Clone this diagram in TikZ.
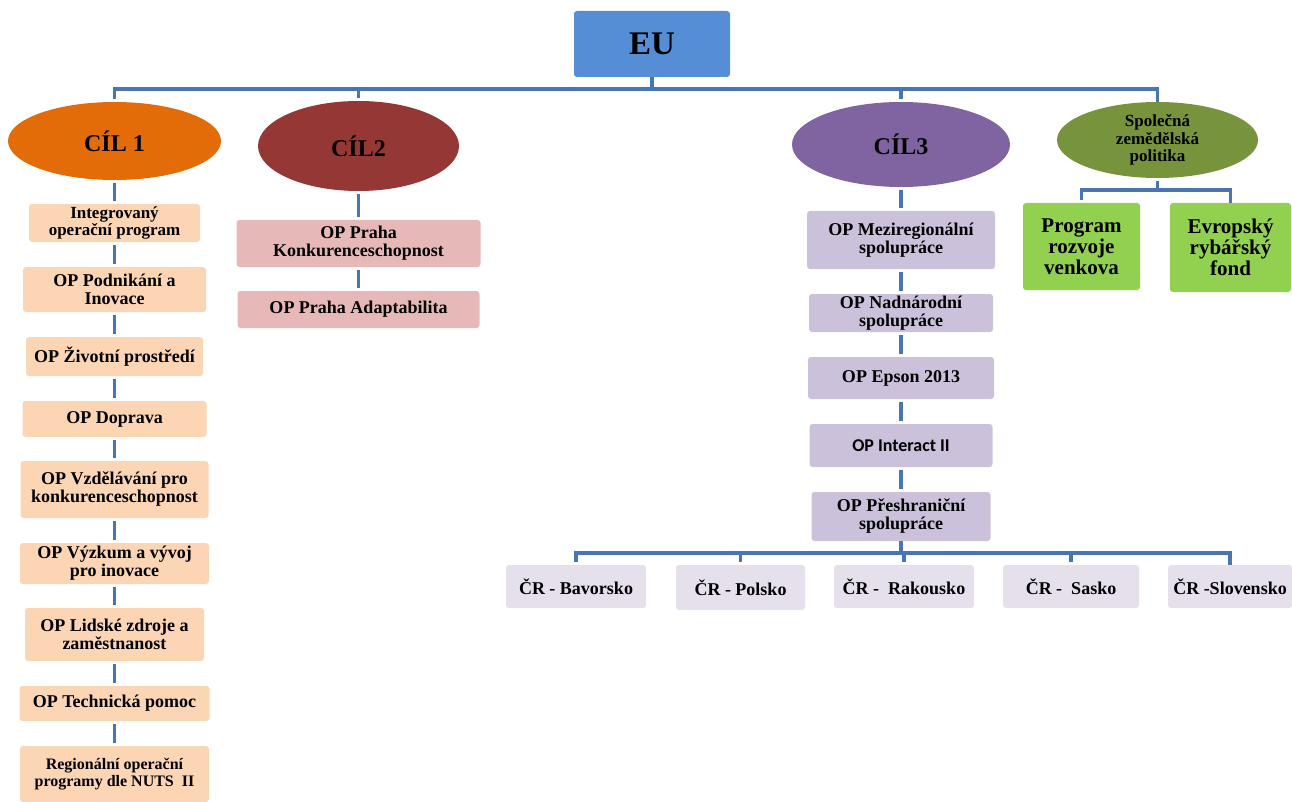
\documentclass[tikz,border=0pt]{standalone}
\usepackage{fontspec}
\setmainfont{Liberation Serif}
\newfontfamily\calfont{Carlito}
\usetikzlibrary{shapes.geometric}
\definecolor{linec}{HTML}{4677B4}
\definecolor{eublue}{HTML}{558ED5}
\definecolor{orangec}{HTML}{E36C09}
\definecolor{redc}{HTML}{953735}
\definecolor{purplec}{HTML}{8064A2}
\definecolor{olivec}{HTML}{77933C}
\definecolor{greenc}{HTML}{92D050}
\definecolor{peach}{HTML}{FCD5B5}
\definecolor{pinkc}{HTML}{E6B9B8}
\definecolor{lilac}{HTML}{CCC1DA}
\definecolor{lilaclight}{HTML}{E5E0EC}
\tikzset{
  conn/.style={draw=linec, line width=3.2pt},
  gap/.style={shorten <=3pt, shorten >=3pt},
  gapend/.style={shorten <=3pt},
  bx/.style={rectangle, rounded corners=3pt, inner sep=0pt, align=center,
    font=\fontsize{18}{18}\selectfont\bfseries},
  ell/.style={ellipse, inner sep=0pt, align=center,
    font=\fontsize{24}{24}\selectfont\bfseries},
  pbox/.style={bx, fill=peach},
  rbox/.style={bx, fill=pinkc},
  lbox/.style={bx, fill=lilac},
  cbox/.style={bx, fill=lilaclight, minimum height=43pt},
  gbox/.style={bx, fill=greenc, font=\fontsize{21}{21}\selectfont\bfseries},
}
\begin{document}
\begin{tikzpicture}[x=1pt,y=-1pt]
\useasboundingbox (0,0) rectangle (1292,802);
% top
\node[bx, fill=eublue, minimum width=156pt, minimum height=66pt, font=\fontsize{33}{33}\selectfont\bfseries] (eu) at (652,44) {EU};
\node[ell, fill=orangec, minimum width=213pt, minimum height=78pt] (c1) at (114.5,141) {CÍL 1};
\node[ell, fill=redc, minimum width=201pt, minimum height=90pt] (c2) at (358.5,146) {CÍL2};
\node[ell, fill=purplec, minimum width=218pt, minimum height=85pt] (c3) at (901,144.5) {CÍL3};
\node[ell, fill=olivec, minimum width=201pt, minimum height=76pt, font=\fontsize{17}{17.5}\selectfont\bfseries] (sp) at (1157.5,140) {Společná\\zemědělská\\politika};
\coordinate (bus) at (0,89);
% column 1
\node[pbox, minimum width=171pt, minimum height=38pt, font=\fontsize{17}{17}\selectfont\bfseries] (a1) at (114.5,223) {Integrovaný\\operační program};
\node[pbox, minimum width=183pt, minimum height=45pt] (a2) at (114.5,289.5) {OP Podnikání a\\Inovace};
\node[pbox, minimum width=177pt, minimum height=39pt] (a3) at (114.5,356.5) {OP Životní prostředí};
\node[pbox, minimum width=184pt, minimum height=36pt] (a4) at (114.5,419) {OP Doprava};
\node[pbox, minimum width=188pt, minimum height=57pt] (a5) at (114.5,489.5) {OP Vzdělávání pro\\konkurenceschopnost};
\node[pbox, minimum width=189pt, minimum height=41pt] (a6) at (114.5,563.5) {OP Výzkum a vývoj\\pro inovace};
\node[pbox, minimum width=179pt, minimum height=53pt] (a7) at (114.5,634.5) {OP Lidské zdroje a\\zaměstnanost};
\node[pbox, minimum width=190pt, minimum height=35pt] (a8) at (114.5,703.5) {OP Technická pomoc};
\node[pbox, minimum width=189pt, minimum height=56pt, font=\fontsize{16}{17}\selectfont\bfseries] (a9) at (114.5,774) {Regionální operační\\programy dle NUTS\ \ II};
% column 2
\node[rbox, minimum width=244pt, minimum height=47pt] (b1) at (358.5,243.5) {OP Praha\\Konkurenceschopnost};
\node[rbox, minimum width=242pt, minimum height=37pt] (b2) at (358.5,309.5) {OP Praha Adaptabilita};
% column 3
\node[lbox, minimum width=188pt, minimum height=58pt] (d1) at (901,240) {OP Meziregionální\\spolupráce};
\node[lbox, minimum width=184pt, minimum height=38pt] (d2) at (901,313) {OP Nadnárodní\\spolupráce};
\node[lbox, minimum width=186pt, minimum height=42pt] (d3) at (901,378) {OP Epson 2013};
\node[lbox, minimum width=183pt, minimum height=43pt, font=\fontsize{18}{18}\selectfont\calfont\bfseries] (d4) at (901,445.5) {OP Interact II};
\node[lbox, minimum width=179pt, minimum height=49pt] (d5) at (901,516.5) {OP Přeshraniční\\spolupráce};
\coordinate (bus2) at (0,553);
\node[cbox, minimum width=140pt] (e1) at (576,586.5) {ČR - Bavorsko};
\node[cbox, minimum width=129pt, minimum height=45pt] (e2) at (740.5,587.5) {ČR - Polsko};
\node[cbox, minimum width=140pt] (e3) at (904,586.5) {ČR -\ \ Rakousko};
\node[cbox, minimum width=136pt] (e4) at (1071,586.5) {ČR -\ \ Sasko};
\node[cbox, minimum width=124pt] (e5) at (1230,586.5) {ČR -Slovensko};
% green
\coordinate (bus3) at (0,190);
\node[gbox, minimum width=117pt, minimum height=87pt] (pr) at (1081.5,246.5) {Program\\rozvoje\\venkova};
\node[gbox, minimum width=121pt, minimum height=89pt] (ef) at (1230.5,247.5) {Evropský\\rybářský\\fond};
% connectors top
\draw[conn] (eu.south) -- (eu.south |- bus);
\draw[conn, gapend] (c1.north) -- (c1.north |- bus) -- (sp.north |- bus) -- (sp.north);
\draw[conn, gapend] (c2.north) -- (c2.north |- bus);
\draw[conn, gapend] (c3.north) -- (c3.north |- bus);
% column 1
\draw[conn, gap] (c1.south) -- (a1.north);
\draw[conn, gap] (a1.south) -- (a2.north);
\draw[conn, gap] (a2.south) -- (a3.north);
\draw[conn, gap] (a3.south) -- (a4.north);
\draw[conn, gap] (a4.south) -- (a5.north);
\draw[conn, gap] (a5.south) -- (a6.north);
\draw[conn, gap] (a6.south) -- (a7.north);
\draw[conn, gap] (a7.south) -- (a8.north);
\draw[conn, gap] (a8.south) -- (a9.north);
% column 2
\draw[conn, gap] (c2.south) -- (b1.north);
\draw[conn, gap] (b1.south) -- (b2.north);
% column 3
\draw[conn, gap] (c3.south) -- (d1.north);
\draw[conn, gap] (d1.south) -- (d2.north);
\draw[conn, gap] (d2.south) -- (d3.north);
\draw[conn, gap] (d3.south) -- (d4.north);
\draw[conn, gap] (d4.south) -- (d5.north);
\draw[conn] (d5.south) -- (d5.south |- bus2);
\draw[conn, gapend] (e1.north) -- (e1.north |- bus2) -- (e5.north |- bus2) -- (e5.north);
\draw[conn, gapend] (e2.north) -- (e2.north |- bus2);
\draw[conn, gapend] (e3.north) -- (e3.north |- bus2);
\draw[conn, gapend] (e4.north) -- (e4.north |- bus2);
% green
\draw[conn, gapend] (sp.south) -- (sp.south |- bus3);
\draw[conn, gapend] (pr.north) -- (pr.north |- bus3) -- (ef.north |- bus3) -- (ef.north);
\end{tikzpicture}
\end{document}
